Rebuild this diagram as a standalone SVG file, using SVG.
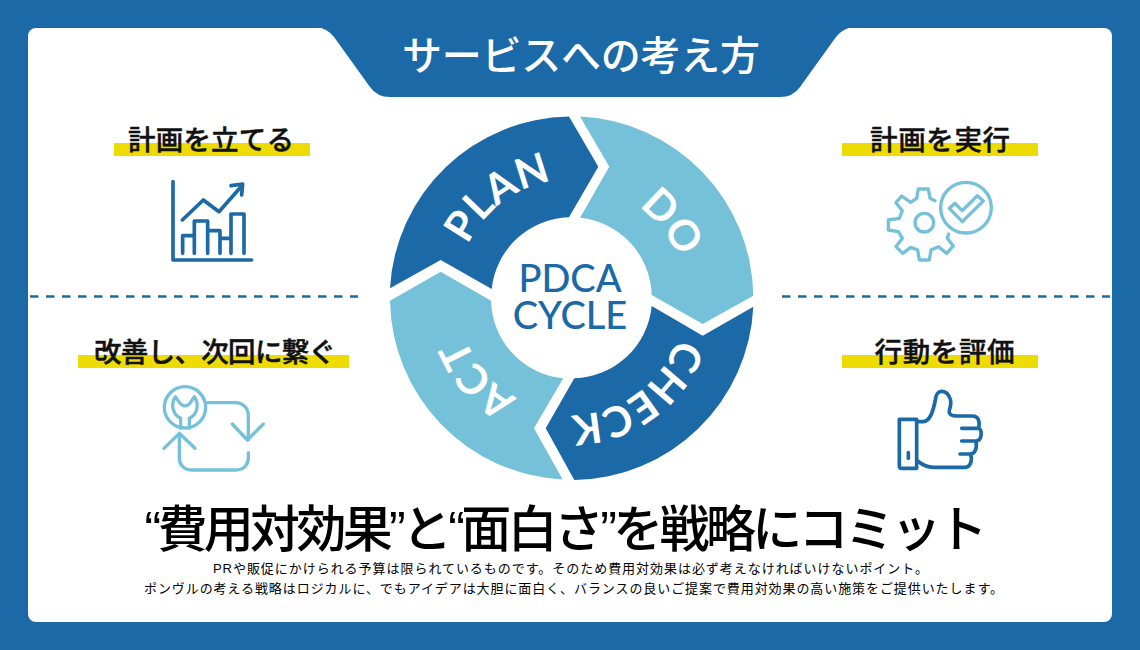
<svg xmlns="http://www.w3.org/2000/svg" width="1140" height="650" viewBox="0 0 1140 650">
<style>
.jp{font-family:"Liberation Sans","Noto Sans CJK JP",sans-serif;text-anchor:middle}
.lab{font-size:27.5px;font-weight:500;fill:#111;stroke:#111;stroke-width:.45}
.seg{font-family:Lato,"Liberation Sans",sans-serif;font-size:42px;font-weight:700;text-anchor:middle;fill:#fff}
.cen{font-family:Lato,"Liberation Sans",sans-serif;font-size:38px;font-weight:500;text-anchor:middle;fill:#1b69a6}
.body{font-size:13px;fill:#000}
.ic{fill:none;stroke-linecap:round;stroke-linejoin:round}
.d{stroke:#1b69a6;stroke-width:11}.l{stroke:#76c1da;stroke-width:10}
.bar{fill:#eedc00}
.dash{stroke:#1b69a6;stroke-width:2.6;stroke-dasharray:8.5 7.5;fill:none}
</style>
<defs>
<path id="arc" d="M458 298A113 113 0 0 1 684 298"/>
</defs>
<rect width="1140" height="650" fill="#1b69a6"/>
<rect x="28" y="28" width="1084" height="594" rx="8" fill="#fff"/>
<g id="title">
<path d="M316 27 Q327 28 334 37 L370 87 Q377 97 390 97 L780 97 Q793 97 800 87 L836 37 Q843 28 854 27 Z" fill="#1b69a6"/>
<text class="jp" x="581" y="70" font-size="40" font-weight="500" fill="#fff" textLength="358" lengthAdjust="spacing">サービスへの考え方</text>
</g>
<g id="dividers">
<path class="dash" d="M30 296.5H358"/>
<path class="dash" d="M782 296.5H1110"/>
</g>
<g id="wheel">
<g id="plan">
<path d="M390 288.3A182 182 0 0 1 569 116.5L598.3 166.7L569 217.3A80 80 0 0 0 491.7 289L440.7 260Z" fill="#1b69a6"/>
<text class="seg" transform="translate(-1 -5) rotate(-37 571 298)"><textPath href="#arc" startOffset="50%">PLAN</textPath></text>
</g>
<g id="do">
<path d="M580 116.5A182 182 0 0 1 753.3 295.7L702.7 324L651.7 295A80 80 0 0 0 580 217.7L609.3 166.7Z" fill="#76c1da"/>
<text class="seg" transform="translate(2 1) rotate(52 571 298)"><textPath href="#arc" startOffset="50%">DO</textPath></text>
</g>
<g id="check">
<path d="M753.3 306.7A182 182 0 0 1 574.3 480L545.7 428.3L574.3 378.3A80 80 0 0 0 651.7 306L702.7 335.7Z" fill="#1b69a6"/>
<text class="seg" transform="translate(-1 4) rotate(144 571 298)"><textPath href="#arc" startOffset="50%">CHECK</textPath></text>
</g>
<g id="act">
<path d="M562.7 479.5A182 182 0 0 1 390 300.7L440.7 271.7L491 300.7A80 80 0 0 0 563.3 378.3L534 428.3Z" fill="#76c1da"/>
<text class="seg" transform="rotate(229 571 298)"><textPath href="#arc" startOffset="50%">ACT</textPath></text>
</g>
<g id="center">
<text class="cen"><tspan x="570" y="292">PDCA</tspan><tspan x="570" y="329">CYCLE</tspan></text>
</g>
</g>
<g id="node-plan">
<rect class="bar" x="114" y="143" width="196" height="13"/>
<text class="jp lab" x="211" y="150" textLength="166">計画を立てる</text>
<g class="ic d" transform="translate(150 170) scale(.3333)">
<path d="M69 35V270H305"/>
<path d="M97 150L160 90L207 125L275 48M243 47L278 42L275 75"/>
<path d="M98 250V197H133M133 250V153H173V250M173 182H210V250M210 205H243M243 250V132H282V250"/>
</g>
</g>
<g id="node-do">
<rect class="bar" x="842" y="143" width="196" height="13"/>
<text class="jp lab" x="940" y="150" textLength="140">計画を実行</text>
<g class="ic l" transform="translate(870 170) scale(.3333)">
<circle cx="288" cy="113" r="76"/>
<path d="M238 115L255 100L277 122L322 77L340 93L277 155Z"/>
<circle cx="163" cy="158" r="28"/>
<path d="M195 92L180 85L175 57H145L140 85L122 97L95 78L78 98L97 122L88 145L55 150V180L85 185L97 205L78 230L98 250L122 232L143 240L148 270H178L183 240L205 230L230 250L250 228L232 205L236 192"/>
</g>
</g>
<g id="node-act">
<rect class="bar" x="78" y="355" width="271" height="13"/>
<text class="jp lab" x="215" y="362" textLength="242">改善し、次回に繋ぐ</text>
<g class="ic l" transform="translate(150 380) scale(.3333)">
<circle cx="105" cy="82" r="62"/>
<path d="M92 145V115C70 105 60 75 76 50L90 70C98 80 112 80 120 70L133 50C150 75 140 105 118 115V145"/>
<path d="M172 68H255C280 68 295 85 295 108V180M247 132L292 180L340 132"/>
<path d="M295 218V235C295 255 280 270 258 270H125C103 270 88 255 88 235V160M42 205L88 160L135 205"/>
</g>
</g>
<g id="node-check">
<rect class="bar" x="842" y="355" width="196" height="13"/>
<text class="jp lab" x="944.5" y="362" textLength="140">行動を評価</text>
<g class="ic d" transform="translate(880 380) scale(.3333)">
<path d="M58 118H110V265H65Q58 265 58 258Z"/>
<path d="M85 218V235"/>
<path d="M110 125H130C150 125 160 95 168 50C172 28 200 28 210 55C218 75 205 88 208 98C210 106 218 108 230 108H278C296 108 300 125 296 145H245M296 145C308 150 306 183 288 183H245M288 183C292 205 285 222 270 222H240M272 222C278 245 270 262 255 262H160C135 262 122 250 112 242"/>
</g>
</g>
<g id="copy">
<text class="jp" x="566" y="547" font-size="50" font-weight="500" fill="#000" textLength="843" lengthAdjust="spacing">“費用対効果”と“面白さ”を戦略にコミット</text>
<text class="jp body" x="570.5" y="573" textLength="715" lengthAdjust="spacing">PRや販促にかけられる予算は限られているものです。そのため費用対効果は必ず考えなければいけないポイント。</text>
<text class="jp body" x="573.5" y="593" textLength="859" lengthAdjust="spacing">ポンヴルの考える戦略はロジカルに、でもアイデアは大胆に面白く、バランスの良いご提案で費用対効果の高い施策をご提供いたします。</text>
</g>
</svg>
